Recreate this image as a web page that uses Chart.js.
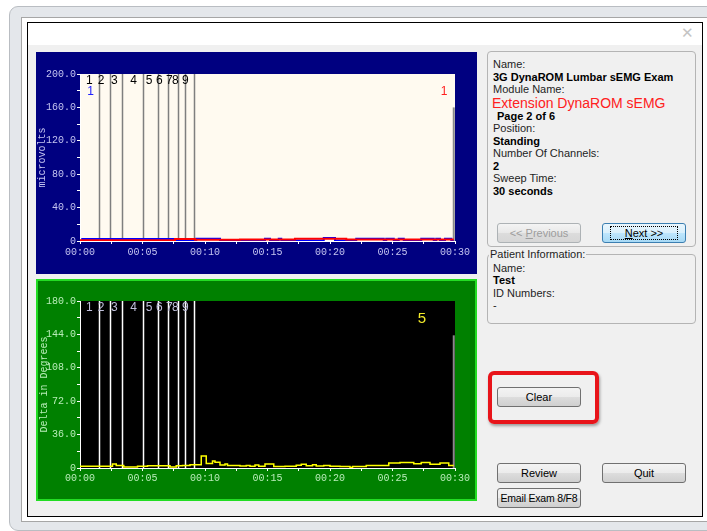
<!DOCTYPE html>
<html>
<head>
<meta charset="utf-8">
<script src="https://cdn.jsdelivr.net/npm/chart.js@4.4.1/dist/chart.umd.min.js"></script>
<style>
  body { margin: 0; width: 707px; height: 531px; background: #ffffff; overflow: hidden; position: relative; font-family: "Liberation Sans", Arial, sans-serif; }
  .abs { position: absolute; }
  #frame { left: 9px; top: 6px; width: 710px; height: 523px; background: #e4e7eb; border: 1px solid #b9bdc2; border-radius: 9px; }
  #inner { left: 21px; top: 17px; width: 690px; height: 503px; background: #ffffff; border: 1px solid #a6a6a6; }
  #dialog { left: 27px; top: 22px; width: 674px; height: 493px; background: #f0f0f0; border: 1px solid #000; }
  #titlebar { left: 28px; top: 23px; width: 674px; height: 22px; background: #ffffff; }
  #closex { left: 681px; top: 24px; font-size: 15px; color: #c4c4c4; }
  #topPanel { left: 36px; top: 52px; width: 441px; height: 222px; background: #000080; }
  #botPanel { left: 36px; top: 279px; width: 437px; height: 218px; background: #008000; border: 2px solid #23dd23; }
  canvas { display: block; }
  .box { border: 1px solid #b4b4b4; border-radius: 4px; background: #f0f0f0; }
  .ln { position: absolute; font-size: 11px; line-height: 14px; color: #1e1e1e; white-space: nowrap; }
  .b { font-weight: bold; color: #000; }
  .btn { position: absolute; width: 82px; height: 18px; border: 1px solid #707070; border-radius: 3px;
         background: linear-gradient(#f3f3f3 0%, #ebebeb 50%, #dddddd 51%, #cfcfcf 100%);
         font-size: 11px; line-height: 18px; text-align: center; color: #000; box-sizing: content-box;
         white-space: nowrap; overflow: hidden; }
  .btn.dis { border-color: #adb2b5; background: linear-gradient(#f4f4f4, #e8e8e8 50%, #dcdcdc 51%, #d6d6d6); color: #9d9d9d; }
  .btn.foc { border-color: #3c7fb1; background: linear-gradient(#eaf6fd 0%, #d9f0fc 50%, #bee6fd 51%, #a7d9f5 100%); }
  .btn.foc span { border: 1px dotted #000; padding: 0 14px; }
  #redBox { left: 488px; top: 371px; width: 103px; height: 45px; border: 4px solid #e8141a; border-radius: 6px; box-shadow: 1px 2px 3px rgba(0,0,0,0.35); }
  #legend { left: 489px; top: 247px; background: #f0f0f0; padding: 0 1px; }
</style>
</head>
<body>
<div class="abs" id="frame"></div>
<div class="abs" id="inner"></div>
<div class="abs" id="dialog"></div>
<div class="abs" id="titlebar"></div>
<div class="abs" id="closex">&#x2715;</div>

<div class="abs" id="topPanel"><canvas id="emgChart" width="441" height="222"></canvas></div>
<div class="abs" id="botPanel"><canvas id="romChart" width="437" height="218"></canvas></div>

<!-- exam info -->
<div class="abs box" style="left:487px;top:51px;width:207px;height:194px;"></div>
<div class="ln" style="left:493px;top:57px;">Name:</div>
<div class="ln b" style="left:493px;top:70px;">3G DynaROM Lumbar sEMG Exam</div>
<div class="ln" style="left:493px;top:82px;">Module Name:</div>
<div class="ln" style="left:492px;top:95px;font-size:14px;line-height:16px;color:#ff2020;">Extension DynaROM sEMG</div>
<div class="ln b" style="left:497px;top:109px;">Page 2 of 6</div>
<div class="ln" style="left:493px;top:121px;">Position:</div>
<div class="ln b" style="left:493px;top:134px;">Standing</div>
<div class="ln" style="left:493px;top:146px;">Number Of Channels:</div>
<div class="ln b" style="left:493px;top:159px;">2</div>
<div class="ln" style="left:493px;top:171px;">Sweep Time:</div>
<div class="ln b" style="left:493px;top:184px;">30 seconds</div>
<div class="btn dis" style="left:497px;top:223px;">&lt;&lt; <u>P</u>revious</div>
<div class="btn foc" style="left:602px;top:223px;"><span><u>N</u>ext &gt;&gt;</span></div>

<!-- patient info -->
<div class="abs box" style="left:487px;top:254px;width:207px;height:68px;"></div>
<div class="ln" id="legend">Patient Information:</div>
<div class="ln" style="left:493px;top:261px;">Name:</div>
<div class="ln b" style="left:493px;top:273px;">Test</div>
<div class="ln" style="left:493px;top:286px;">ID Numbers:</div>
<div class="ln" style="left:493px;top:298px;">-</div>

<div class="abs" id="redBox"></div>
<div class="btn" style="left:497px;top:387px;">Clear</div>
<div class="btn" style="left:497px;top:463px;">Review</div>
<div class="btn" style="left:602px;top:463px;">Quit</div>
<div class="btn" style="left:497px;top:488px;font-size:10.5px;letter-spacing:-0.2px;">Email Exam 8/F8</div>

<script>
// time axis, seconds
const xTickTimes = [0, 5, 10, 15, 20, 25, 30];
const xTickLabels = ['00:00', '00:05', '00:10', '00:15', '00:20', '00:25', '00:30'];
const emgTickValues = [0, 40, 80, 120, 160, 200];
const emgTickLabels = ['0', '40.0', '80.0', '120.0', '160.0', '200.0'];
const romTickValues = [0, 36, 72, 108, 144, 180];
const romTickLabels = ['0', '36.0', '72.0', '108.0', '144.0', '180.0'];

// segment markers (same on both charts)
const markerTimes = [1.49, 2.43, 3.39, 5.01, 6.24, 7.01, 7.81, 8.40, 9.12];
const segmentLabels = ['1', '2', '3', '4', '5', '6', '7', '8', '9'];
const segmentLabelTimes = [0.75, 1.68, 2.75, 4.29, 5.52, 6.35, 7.15, 7.62, 8.43];

// sweep cursor at the right end
const cursorTime = 29.9;
const emgCursorTop = 160;
const romCursorTop = 143;

// sEMG channel 1 (red) and channel 1 (blue), microvolts, value holds from time on
const redTimes = [0, 7.6, 9.2, 12.8, 17.2, 21.3, 29.9];
const redValues = [1.0, 2.4, 1.6, 1.8, 2.8, 1.8, 1.8];
const blueTimes = [0.1, 7.6, 9.3, 11.2, 14.8, 15.2, 15.9, 16.1, 19.5, 20.4, 22.1, 24.3, 24.5, 25.1, 25.5, 25.9, 27.3, 28.3, 28.5, 28.8, 29.2, 29.7, 29.9];
const blueValues = [2.4, 0.6, 2.6, 0.6, 2.6, 0.6, 2.6, 0.6, 3.6, 0.6, 2.6, 0.6, 2.6, 0.6, 2.6, 0.6, 2.6, 0.6, 2.6, 0.6, 2.6, 0.6, 0.6];

// range of motion delta (yellow), degrees
const romTimes = [0, 1.5, 2.6, 2.9, 3.5, 4.6, 5.4, 7.2, 7.7, 8.2, 8.8, 9.7, 10.1, 10.6, 10.8, 11.2, 11.6, 11.8,
  12.8, 13.3, 13.6, 14.0, 14.3, 14.8, 15.5, 16.4, 17.3, 17.7, 18.1, 18.6, 18.9, 19.5, 20.0, 20.8, 21.6, 21.8,
  22.9, 24.7, 25.6, 26.7, 27.3, 28.0, 28.8, 29.5, 29.9];
const romValues = [1.8, 2.0, 4.4, 2.6, 1.0, 2.0, 2.4, 1.0, 2.3, 2.8, 3.6, 13.0, 4.8, 7.5, 6.3, 3.2, 4.4, 2.7,
  2.2, 2.8, 1.8, 3.2, 2.0, 4.2, 1.5, 2.0, 3.0, 4.0, 2.4, 3.4, 2.2, 2.8, 2.0, 1.5, 0.6, 1.6,
  2.8, 5.4, 6.0, 4.7, 6.0, 4.0, 5.4, 2.8, 2.8];

function points(times, values) {
    return times.map((t, i) => ({ x: t, y: values[i] }));
}

// Plot background, marker lines and labels
const markerPlugin = {
    id: 'markers',
    beforeDraw(chart, args, opts) {
        const a = chart.chartArea;
        const ctx = chart.ctx;
        ctx.save();
        ctx.fillStyle = opts.plotBg;
        ctx.fillRect(a.left, a.top, a.right - a.left, a.bottom - a.top);
        ctx.restore();
    },
    beforeDatasetsDraw(chart, args, opts) {
        const a = chart.chartArea;
        const ctx = chart.ctx;
        const xs = chart.scales.x, ys = chart.scales.y;
        ctx.save();
        ctx.strokeStyle = opts.lineColor;
        ctx.lineWidth = 1.5;
        markerTimes.forEach(t => {
            const px = Math.round(xs.getPixelForValue(t)) + 0.5;
            ctx.beginPath();
            ctx.moveTo(px, a.top);
            ctx.lineTo(px, a.bottom);
            ctx.stroke();
        });
        // sweep cursor
        ctx.strokeStyle = '#8a8a8a';
        ctx.lineWidth = 2;
        const cx = xs.getPixelForValue(cursorTime);
        ctx.beginPath();
        ctx.moveTo(cx, ys.getPixelForValue(opts.cursorTop));
        ctx.lineTo(cx, a.bottom);
        ctx.stroke();

        ctx.font = '12px "Liberation Sans", Arial, sans-serif';
        ctx.textAlign = 'center';
        ctx.textBaseline = 'middle';
        ctx.fillStyle = opts.labelColor;
        segmentLabels.forEach((s, i) => {
            ctx.fillText(s, xs.getPixelForValue(segmentLabelTimes[i]), a.top + 7);
        });
        opts.notes.forEach(n => {
            ctx.font = n.font;
            ctx.fillStyle = n.color;
            ctx.fillText(n.text, xs.getPixelForValue(n.t), a.top + n.dy);
        });
        ctx.restore();
    }
};

function timeAxis(color, pad, height) {
    return {
        type: 'linear', min: 0, max: 30,
        ticks: {
            stepSize: 2.5, autoSkip: false, maxRotation: 0, color: color, padding: pad,
            font: { family: '"Liberation Mono", monospace', size: 10 },
            callback: v => { const i = xTickTimes.indexOf(v); return i >= 0 ? xTickLabels[i] : ''; }
        },
        grid: { drawOnChartArea: false, color: '#ffffff', tickColor: '#ffffff', tickLength: 3 },
        border: { color: '#ffffff', width: 1 },
        afterFit(s) { s.height = height; }
    };
}

function valueAxis(max, step, tickValues, tickLabels, color, title, width) {
    return {
        min: 0, max: max,
        ticks: {
            stepSize: step, color: color, padding: 1,
            font: { family: '"Liberation Mono", monospace', size: 10 },
            callback: v => { const i = tickValues.indexOf(v); return i >= 0 ? tickLabels[i] : ''; }
        },
        grid: { drawOnChartArea: false, color: '#ffffff', tickColor: '#ffffff', tickLength: 3 },
        border: { color: '#ffffff', width: 1 },
        title: { display: true, text: title, color: color, padding: 0,
                 font: { family: '"Liberation Mono", monospace', size: 10 } },
        afterFit(s) { s.width = width; }
    };
}

new Chart(document.getElementById('emgChart'), {
    type: 'line',
    data: {
        datasets: [
            { label: 'Channel 1 (red)', data: points(redTimes, redValues), borderColor: '#ff0000',
              borderWidth: 2, stepped: true, pointRadius: 0, order: 1 },
            { label: 'Channel 1 (blue)', data: points(blueTimes, blueValues), borderColor: '#0000ff',
              borderWidth: 2, stepped: true, pointRadius: 0, order: 2 }
        ]
    },
    options: {
        responsive: false, animation: false,
        layout: { padding: { left: 0, top: 22, right: 22, bottom: 0 } },
        plugins: {
            legend: { display: false }, tooltip: { enabled: false },
            markers: {
                plotBg: '#fffaf0', lineColor: '#7f7f7f', labelColor: '#000000', cursorTop: emgCursorTop,
                notes: [
                    { text: '1', t: 0.85, dy: 18, color: '#2020ff', font: '12px "Liberation Sans", Arial, sans-serif' },
                    { text: '1', t: 29.12, dy: 18, color: '#ff2020', font: '12px "Liberation Sans", Arial, sans-serif' }
                ]
            }
        },
        scales: {
            x: timeAxis('#c4c4f0', 2, 33),
            y: valueAxis(200, 20, emgTickValues, emgTickLabels, '#c4c4f0', 'microvolts', 44)
        }
    },
    plugins: [markerPlugin]
});

new Chart(document.getElementById('romChart'), {
    type: 'line',
    data: {
        datasets: [
            { label: 'Delta in Degrees', data: points(romTimes, romValues), borderColor: '#ffff00',
              borderWidth: 1.5, stepped: true, pointRadius: 0 }
        ]
    },
    options: {
        responsive: false, animation: false,
        layout: { padding: { left: 0, top: 20, right: 20, bottom: 0 } },
        plugins: {
            legend: { display: false }, tooltip: { enabled: false },
            markers: {
                plotBg: '#000000', lineColor: '#ffffff', labelColor: '#c0c0dc', cursorTop: romCursorTop,
                notes: [
                    { text: '5', t: 27.36, dy: 18, color: '#f2ea2a', font: '15px "Liberation Sans", Arial, sans-serif' }
                ]
            }
        },
        scales: {
            x: timeAxis('#b8ecb8', 1, 31),
            y: valueAxis(180, 18, romTickValues, romTickLabels, '#b8ecb8', 'Delta in Degrees', 42)
        }
    },
    plugins: [markerPlugin]
});
</script>
</body>
</html>
